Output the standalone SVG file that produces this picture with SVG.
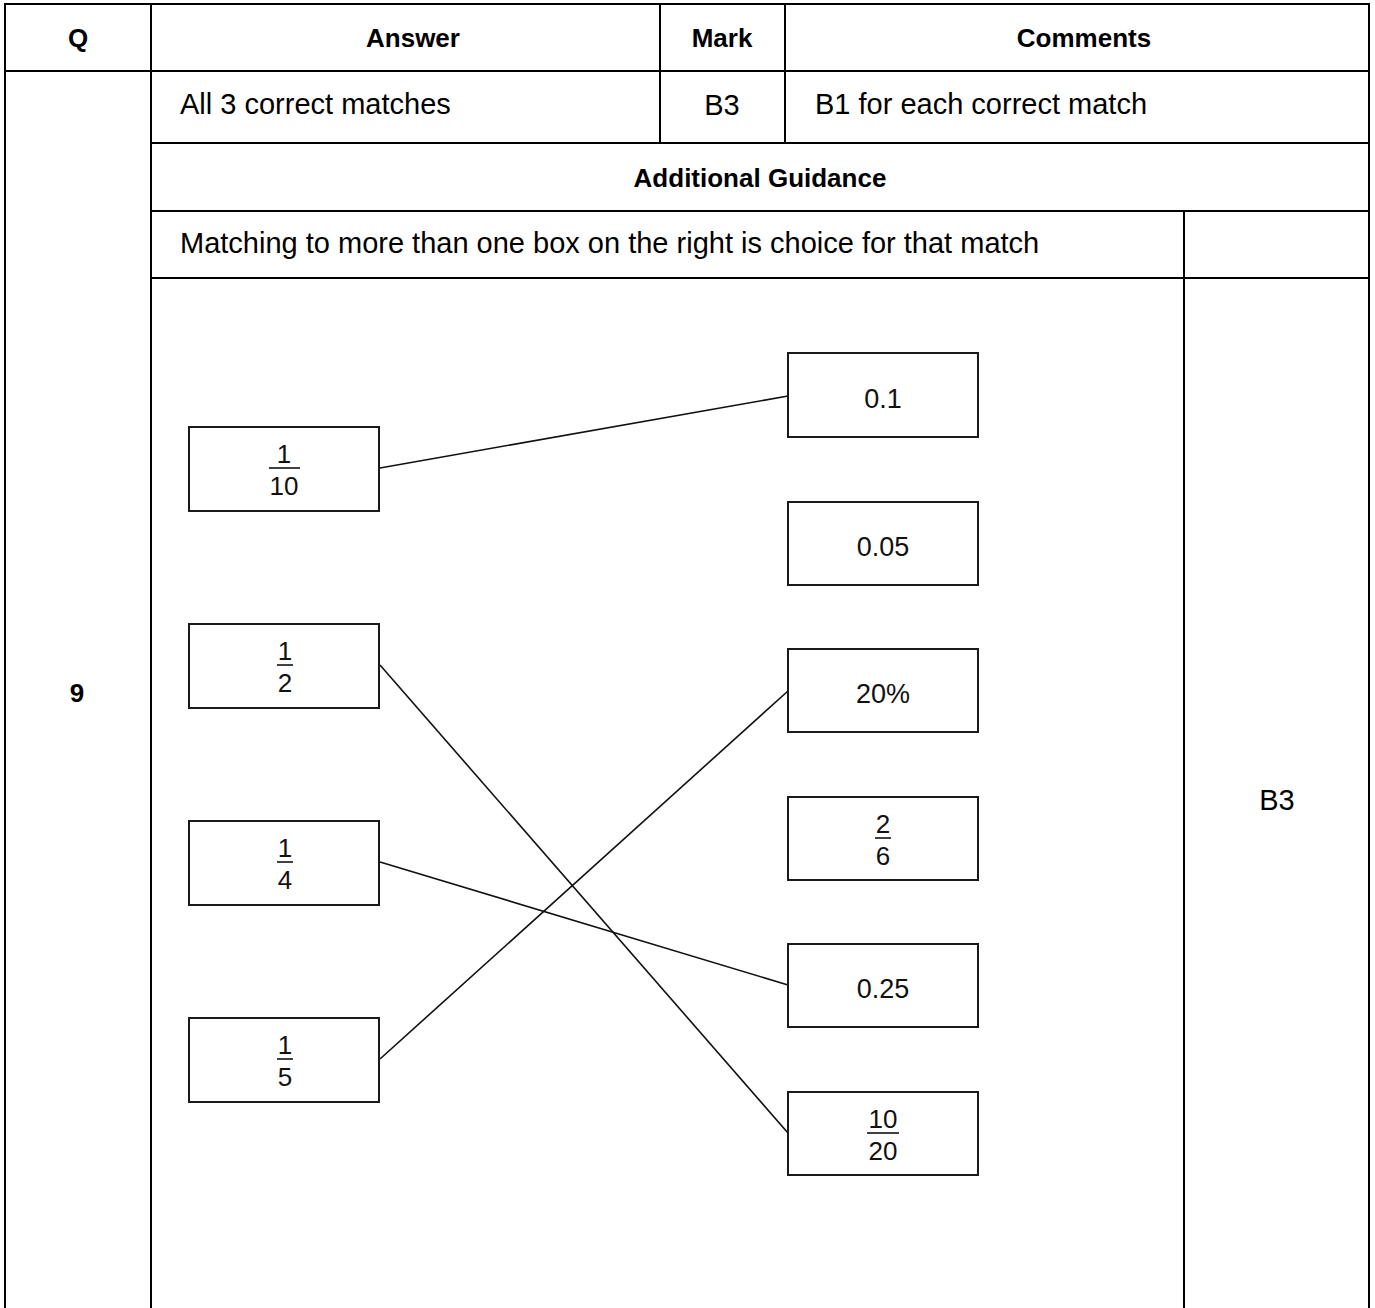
<svg xmlns="http://www.w3.org/2000/svg" width="1375" height="1308" viewBox="0 0 1375 1308">
<style>
.tl{stroke:#000;stroke-width:2;fill:none}
.hd{font-family:"Liberation Sans",Arial,sans-serif;font-weight:bold;font-size:26px;fill:#000}
.tx{font-family:"Liberation Sans",Arial,sans-serif;font-size:29px;fill:#000}
.bx{fill:#fff;stroke:#1a1a1a;stroke-width:2}
.lb{font-family:"Liberation Sans",Arial,sans-serif;font-size:27px;fill:#111;text-anchor:middle}
.fr{font-family:"Liberation Sans",Arial,sans-serif;font-size:26px;fill:#111;text-anchor:middle}
.bar{stroke:#111;stroke-width:1.6}
.cn{stroke:#111;stroke-width:1.6;fill:none}
</style>
<rect x="0" y="0" width="1375" height="1308" fill="#fff"/>
<g id="table">
<line class="tl" x1="4" y1="4" x2="1370" y2="4"/>
<line class="tl" x1="4" y1="71" x2="1370" y2="71"/>
<line class="tl" x1="151" y1="143" x2="1370" y2="143"/>
<line class="tl" x1="151" y1="211" x2="1370" y2="211"/>
<line class="tl" x1="151" y1="278" x2="1370" y2="278"/>
<line class="tl" x1="5" y1="4" x2="5" y2="1308"/>
<line class="tl" x1="151" y1="4" x2="151" y2="1308"/>
<line class="tl" x1="660" y1="4" x2="660" y2="143"/>
<line class="tl" x1="785" y1="4" x2="785" y2="143"/>
<line class="tl" x1="1184" y1="211" x2="1184" y2="1308"/>
<line class="tl" x1="1369" y1="4" x2="1369" y2="1308"/>
<text class="hd" x="78" y="47" text-anchor="middle">Q</text>
<text class="hd" x="413" y="47" text-anchor="middle">Answer</text>
<text class="hd" x="722" y="47" text-anchor="middle">Mark</text>
<text class="hd" x="1084" y="47" text-anchor="middle">Comments</text>
<text class="tx" x="180" y="114">All 3 correct matches</text>
<text class="tx" x="722" y="115" text-anchor="middle">B3</text>
<text class="tx" x="815" y="114">B1 for each correct match</text>
<text class="hd" x="760" y="187" text-anchor="middle">Additional Guidance</text>
<text class="tx" x="180" y="253">Matching to more than one box on the right is choice for that match</text>
<text class="hd" x="77" y="702" text-anchor="middle">9</text>
<text class="tx" x="1277" y="810" text-anchor="middle">B3</text>
</g>
<g id="connectors">
<line class="cn" x1="380" y1="468" x2="788" y2="396"/>
<line class="cn" x1="380" y1="665" x2="788" y2="1133"/>
<line class="cn" x1="380" y1="862" x2="788" y2="985"/>
<line class="cn" x1="380" y1="1059" x2="788" y2="691"/>
</g>
<g id="n-1-10">
<rect class="bx" x="189" y="427" width="190" height="84"/>
<text class="fr" x="284" y="463">1</text>
<line class="bar" x1="269" y1="468" x2="300" y2="468"/>
<text class="fr" x="284" y="495">10</text>
</g>
<g id="n-1-2">
<rect class="bx" x="189" y="624" width="190" height="84"/>
<text class="fr" x="285" y="660">1</text>
<line class="bar" x1="277" y1="665" x2="293" y2="665"/>
<text class="fr" x="285" y="692">2</text>
</g>
<g id="n-1-4">
<rect class="bx" x="189" y="821" width="190" height="84"/>
<text class="fr" x="285" y="857">1</text>
<line class="bar" x1="277" y1="862" x2="293" y2="862"/>
<text class="fr" x="285" y="889">4</text>
</g>
<g id="n-1-5">
<rect class="bx" x="189" y="1018" width="190" height="84"/>
<text class="fr" x="285" y="1054">1</text>
<line class="bar" x1="277" y1="1059" x2="293" y2="1059"/>
<text class="fr" x="285" y="1086">5</text>
</g>
<g id="n-0-1">
<rect class="bx" x="788" y="353" width="190" height="84"/>
<text class="lb" x="883" y="408">0.1</text>
</g>
<g id="n-0-05">
<rect class="bx" x="788" y="502" width="190" height="83"/>
<text class="lb" x="883" y="556">0.05</text>
</g>
<g id="n-20pct">
<rect class="bx" x="788" y="649" width="190" height="83"/>
<text class="lb" x="883" y="703">20%</text>
</g>
<g id="n-2-6">
<rect class="bx" x="788" y="797" width="190" height="83"/>
<text class="fr" x="883" y="833">2</text>
<line class="bar" x1="875" y1="838" x2="891" y2="838"/>
<text class="fr" x="883" y="865">6</text>
</g>
<g id="n-0-25">
<rect class="bx" x="788" y="944" width="190" height="83"/>
<text class="lb" x="883" y="998">0.25</text>
</g>
<g id="n-10-20">
<rect class="bx" x="788" y="1092" width="190" height="83"/>
<text class="fr" x="883" y="1128">10</text>
<line class="bar" x1="867" y1="1133" x2="899" y2="1133"/>
<text class="fr" x="883" y="1160">20</text>
</g>
</svg>
